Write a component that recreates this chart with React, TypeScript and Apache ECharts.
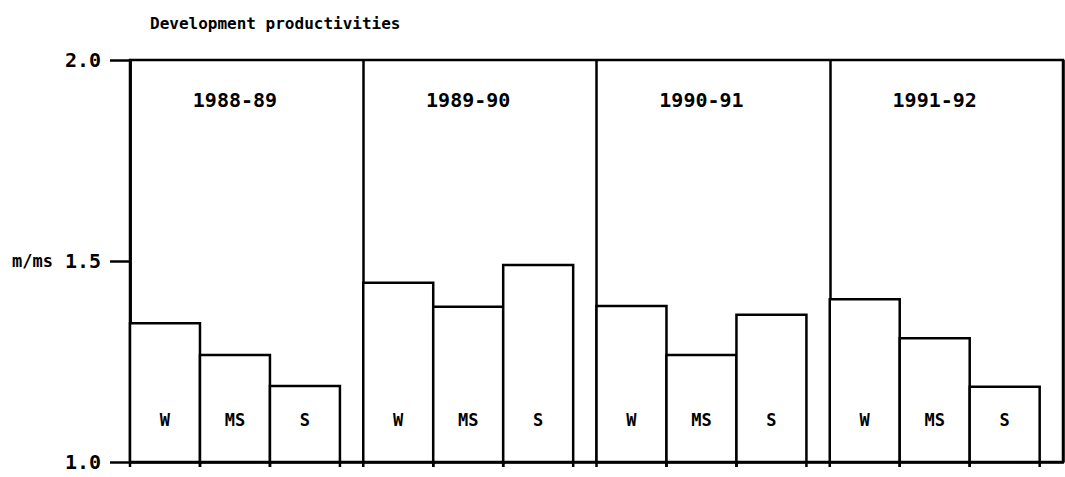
import React, { useEffect, useRef } from "react";
import * as echarts from "echarts";

const title = "Development productivities";
const periods = ["1988-89", "1989-90", "1990-91", "1991-92"];
const measures = ["W", "MS", "S"];
const valuesW = [1.345, 1.446, 1.388, 1.405];
const valuesMS = [1.266, 1.386, 1.266, 1.308];
const valuesS = [1.189, 1.49, 1.366, 1.187];
const yTicks = [1.0, 1.5, 2.0];
const yName = "m/ms";

const FONT = "DejaVu Sans Mono";
const LW = 2.5;

export default function App() {
  const ref = useRef<HTMLDivElement>(null);
  useEffect(() => {
    if (!ref.current) return;
    const chart = echarts.init(ref.current, null, { renderer: "svg" });
    const series3 = [valuesW, valuesMS, valuesS];
    // x-axis units: each period is 10 units wide, each bar 3 units, a 1 unit gap after
    const barData: any[] = [];
    const barLabels: string[] = [];
    periods.forEach((_, g) => {
      measures.forEach((m, b) => {
        const x0 = g * 10 + b * 3;
        barData.push([x0, x0 + 3, series3[b][g]]);
        barLabels.push(m);
      });
    });
    const periodData = periods.map((_, g) => [g * 10 + 4.5, 1.9]);

    chart.setOption({
      animation: false,
      title: {
        text: title,
        left: 145,
        top: 10,
        textStyle: { fontFamily: FONT, fontWeight: "bold", fontSize: 16, color: "#000" },
      },
      grid: {
        left: 130,
        right: 2,
        top: 60,
        bottom: 15,
        show: true,
        borderColor: "#000",
        borderWidth: LW,
        backgroundColor: "transparent",
      },
      xAxis: {
        type: "value",
        min: 0,
        max: 40,
        interval: 10,
        axisLabel: { show: false },
        axisTick: { show: false },
        axisLine: { show: true, lineStyle: { color: "#000", width: LW } },
        splitLine: { show: true, lineStyle: { color: "#000", width: LW } },
      },
      yAxis: {
        type: "value",
        min: yTicks[0],
        max: yTicks[yTicks.length - 1],
        interval: 0.5,
        name: yName,
        nameLocation: "middle",
        nameRotate: 0,
        nameGap: 77,
        nameMoveOverlap: false,
        nameTextStyle: { fontFamily: FONT, fontWeight: "bold", fontSize: 17, color: "#000" },
        axisLine: { show: true, lineStyle: { color: "#000", width: LW } },
        axisTick: { show: true, length: 20, lineStyle: { color: "#000", width: LW } },
        axisLabel: {
          margin: 29,
          formatter: (v: number) => v.toFixed(1),
          fontFamily: FONT,
          fontWeight: "bold",
          fontSize: 20,
          color: "#000",
        },
        splitLine: { show: false },
      },
      series: [
        {
          type: "custom",
          data: barData,
          encode: { x: [0, 1], y: 2 },
          renderItem: (params: any, api: any) => {
            const x0 = api.value(0);
            const x1 = api.value(1);
            const v = api.value(2);
            const p0 = api.coord([x0, v]);
            const p1 = api.coord([x1, yTicks[0]]);
            const pl = api.coord([(x0 + x1) / 2, 1.105]);
            return {
              type: "group",
              children: [
                {
                  type: "rect",
                  shape: { x: p0[0], y: p0[1], width: p1[0] - p0[0], height: p1[1] - p0[1] },
                  style: { fill: "#fff", stroke: "#000", lineWidth: LW },
                },
                {
                  type: "line",
                  shape: { x1: p0[0], y1: p1[1], x2: p0[0], y2: p1[1] + 5 },
                  style: { stroke: "#000", lineWidth: LW },
                },
                {
                  type: "line",
                  shape: { x1: p1[0], y1: p1[1], x2: p1[0], y2: p1[1] + 5 },
                  style: { stroke: "#000", lineWidth: LW },
                },
                {
                  type: "text",
                  style: {
                    text: barLabels[params.dataIndex],
                    x: pl[0],
                    y: pl[1],
                    align: "center",
                    verticalAlign: "middle",
                    fontFamily: FONT,
                    fontWeight: "bold",
                    fontSize: 17,
                    fill: "#000",
                  },
                },
              ],
            };
          },
        },
        {
          type: "custom",
          data: periodData,
          encode: { x: 0, y: 1 },
          renderItem: (params: any, api: any) => {
            const p = api.coord([api.value(0), api.value(1)]);
            return {
              type: "text",
              style: {
                text: periods[params.dataIndex],
                x: p[0],
                y: p[1],
                align: "center",
                verticalAlign: "middle",
                fontFamily: FONT,
                fontWeight: "bold",
                fontSize: 20,
                fill: "#000",
              },
            };
          },
        },
      ],
    });
    return () => chart.dispose();
  }, []);
  return (
    <div
      ref={ref}
      style={{ position: "fixed", left: 0, top: 0, width: 1065, height: 477, background: "#fff" }}
    />
  );
}
